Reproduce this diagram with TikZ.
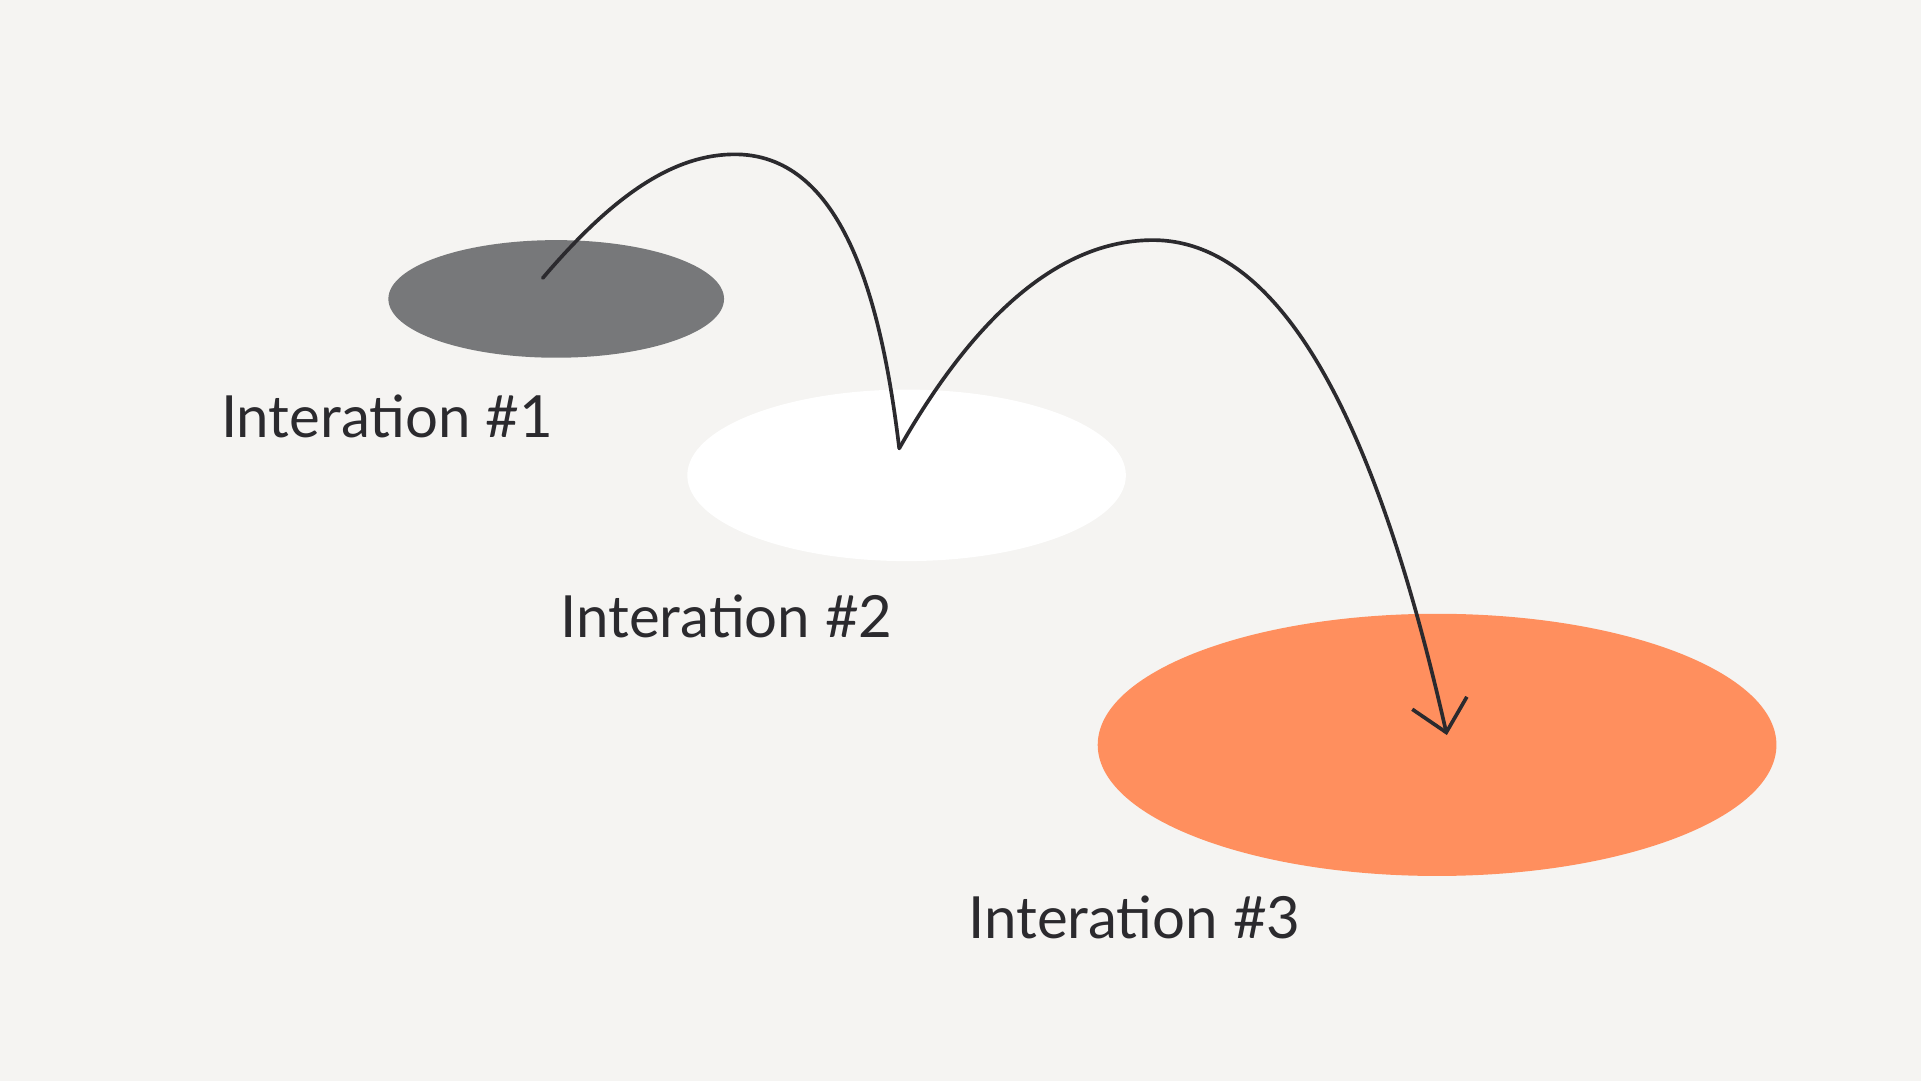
\documentclass[tikz,border=0pt]{standalone}
\usepackage{fontspec}
\setmainfont{Lato}
\usetikzlibrary{arrows.meta}
\definecolor{bg}{HTML}{F5F4F2}
\definecolor{ink}{HTML}{2B2A2E}
\definecolor{gr}{HTML}{77787A}
\definecolor{org}{HTML}{FF8F5E}
\tikzset{lbl/.style={font=\fontsize{13.5}{16}\selectfont, text=ink, inner sep=0pt},
 jump/.style={draw=ink, line width=0.85pt, line cap=round}}
\begin{document}
\begin{tikzpicture}[x=0.01cm,y=-0.01cm]
\fill[bg] (0,0) rectangle (1568,882);
\useasboundingbox (0,0) rectangle (1568,882);
\fill[gr] (454,244) ellipse [x radius=137, y radius=48];
\fill[white] (740,388) ellipse [x radius=179, y radius=70];
\fill[org] (1173,608) ellipse [x radius=277, y radius=107];
\node[lbl] (l1) at (316,340) {Interation \#1};
\node[lbl] (l2) at (593,503) {Interation \#2};
\node[lbl] (l3) at (926,749) {Interation \#3};
\coordinate (a) at (443,227);
\coordinate (p1) at (602,126);
\coordinate (b) at (734,366);
\coordinate (p2) at (941,196);
\coordinate (c) at (1181,600);
\draw[jump] (a) .. controls (500,160) and (550,125) .. (p1) .. controls (690,128) and (720,250) .. (b);
\draw[jump,-{Straight Barb[length=7pt,width=13pt]}] (b) .. controls (800,250) and (870,196) .. (p2) .. controls (1070,196) and (1140,420) .. (c);
\end{tikzpicture}
\end{document}
